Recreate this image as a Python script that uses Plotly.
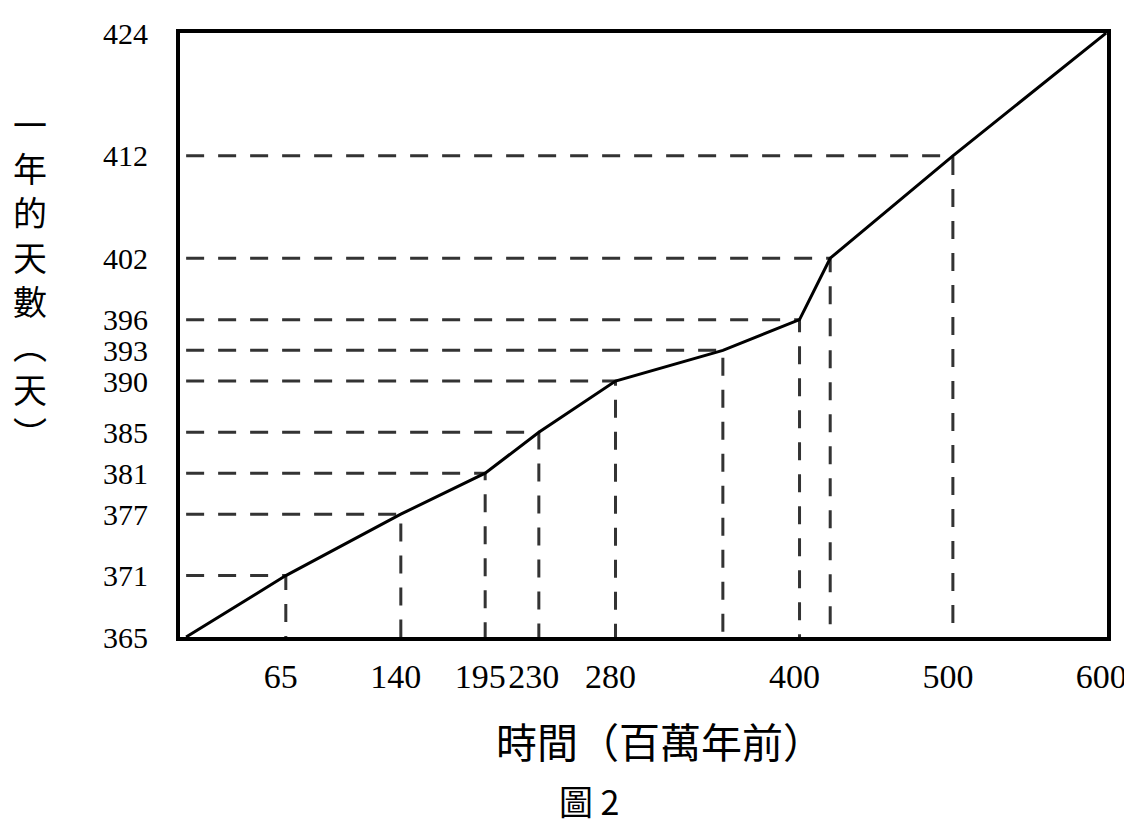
import plotly.graph_objects as go

# Data: time (million years ago) and number of days in a year
times = [0, 65, 140, 195, 230, 280, 350, 400, 420, 500, 600]
days = [365, 371, 377, 381, 385, 390, 393, 396, 402, 412, 424]
x_tick_labels = ["", "65", "140", "195", "230", "280", "", "400", "", "500", "600"]
y_tick_labels = [str(d) for d in days]

x_title = "時間（百萬年前）"
y_title = "一年的天數︵天︶"
fig_caption = "圖 2"

NUM_FONT = "Liberation Serif, Times New Roman, serif"
CJK_FONT = "Noto Sans CJK TC, Noto Sans CJK SC, sans-serif"

# guide lines (from axes to each inner point), built from the data
gx, gy = [], []
for t, d in zip(times[1:-1], days[1:-1]):
    gx += [times[0], t, t, None]
    gy += [d, d, days[0], None]

fig = go.Figure()
fig.add_trace(go.Scatter(
    x=gx, y=gy, mode="lines",
    line=dict(color="#333333", width=3, dash="18px,14px"),
    hoverinfo="skip", showlegend=False,
))
fig.add_trace(go.Scatter(
    x=times, y=days, mode="lines",
    line=dict(color="black", width=3),
    showlegend=False,
))

fig.update_xaxes(
    range=[-4, 600.5],
    tickmode="array", tickvals=times, ticktext=x_tick_labels,
    showgrid=False, zeroline=False, automargin=False,
    showline=True, linecolor="black", linewidth=4, mirror=True,
    ticks="", ticklabelstandoff=6, ticklabelshift=-5,
    tickfont=dict(family=NUM_FONT, size=34, color="black"),
)
fig.update_yaxes(
    range=[days[0], days[-1]],
    tickmode="array", tickvals=days, ticktext=y_tick_labels,
    showgrid=False, zeroline=False, automargin=False,
    showline=True, linecolor="black", linewidth=4, mirror=True,
    ticks="", ticklabelstandoff=22,
    tickfont=dict(family=NUM_FONT, size=30, color="black"),
)

# vertical (stacked) y-axis title, one character per line
fig.add_annotation(
    text="<br>".join(list(y_title)),
    xref="paper", yref="paper", x=0, y=0.594,
    xshift=-150, xanchor="center", yanchor="middle",
    showarrow=False, align="center",
    font=dict(family=CJK_FONT, size=34, color="black"),
)
fig.add_annotation(
    text=x_title, xref="paper", yref="paper", x=0.518, y=-0.17,
    xanchor="center", yanchor="middle", showarrow=False,
    font=dict(family=CJK_FONT, size=41, color="black"),
)
fig.add_annotation(
    text=fig_caption, xref="paper", yref="paper", x=0.442, y=-0.27,
    xanchor="center", yanchor="middle", showarrow=False,
    font=dict(family=CJK_FONT, size=34, color="black"),
)

# the page body adds an 8px margin; figure is sized so the plot lands where the reference has it
fig.update_layout(
    width=1124, height=817,
    margin=dict(l=172, r=25, t=25, b=188),
    paper_bgcolor="white", plot_bgcolor="white",
    hovermode=False,
)

fig.write_html("out.html")
